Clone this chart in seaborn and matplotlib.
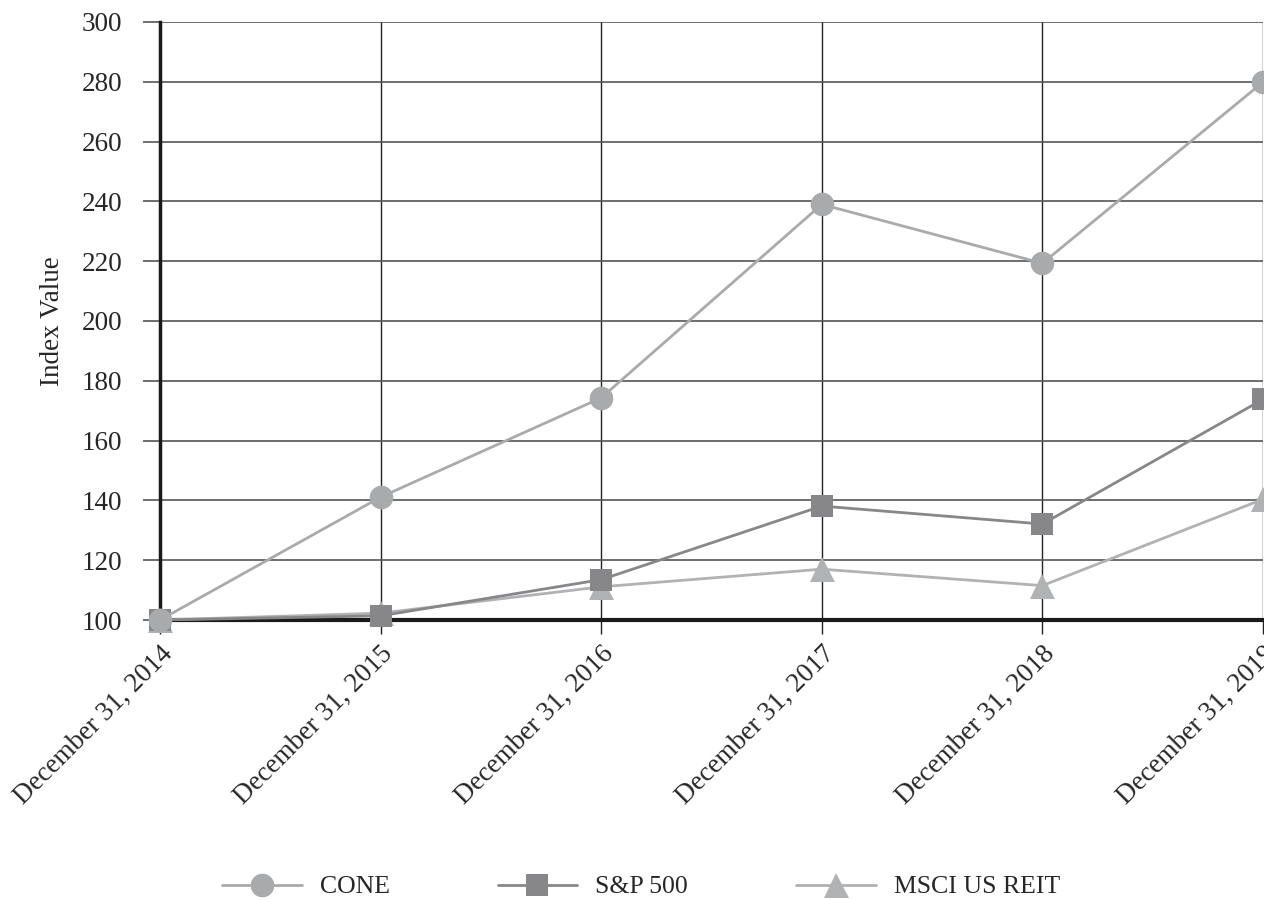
import pandas as pd
import matplotlib.pyplot as plt
import seaborn as sns
from matplotlib.lines import Line2D

dates = ["December 31, 2014", "December 31, 2015", "December 31, 2016",
         "December 31, 2017", "December 31, 2018", "December 31, 2019"]
cone = [100, 141.1, 174.3, 239.0, 219.3, 279.9]
sp500 = [100, 101.4, 113.5, 138.1, 132.1, 173.8]
msci = [100, 102.3, 111.1, 117.0, 111.5, 140.4]

series = ["CONE", "S&P 500", "MSCI US REIT"]
colors = {"CONE": "#a9aaac", "S&P 500": "#87878a", "MSCI US REIT": "#b1b2b4"}
markers = {"CONE": "o", "S&P 500": "s", "MSCI US REIT": "^"}
msizes = {"CONE": 17, "S&P 500": 16, "MSCI US REIT": 18}

df = pd.DataFrame({
    "pos": list(range(len(dates))) * 3,
    "value": cone + sp500 + msci,
    "series": ["CONE"] * 6 + ["S&P 500"] * 6 + ["MSCI US REIT"] * 6,
})

sns.set_style("white")
plt.rcParams["font.family"] = ["Liberation Serif", "DejaVu Serif"]
plt.rcParams["font.size"] = 19.5

fig = plt.figure(figsize=(12.64, 9), dpi=100)
ax = fig.add_axes([160 / 1264, 1 - 620 / 900, 1103 / 1264, 598 / 900])

# draw back to front so CONE sits on top
for name in reversed(series):
    sub = df[df["series"] == name]
    sns.lineplot(data=sub, x="pos", y="value", ax=ax, color=colors[name],
                 marker=markers[name], markersize=msizes[name], linewidth=2,
                 markeredgewidth=0, legend=False, clip_on=False, zorder=5)

ax.set_xlim(0, 5)
ax.set_ylim(100, 300)
ax.set_yticks(range(100, 301, 20))
ax.set_xticks(range(len(dates)))
ax.set_xticklabels(dates, rotation=45, ha="right", rotation_mode="anchor")
ax.set_xlabel("")
ax.set_ylabel("Index Value", labelpad=12)

ax.grid(True, axis="y", color="#555555", linewidth=1.2)
ax.grid(True, axis="x", color="#222222", linewidth=1)
ax.tick_params(axis="y", length=12, width=1.2, color="#555555", pad=15, left=True)
ax.tick_params(axis="x", length=10, width=1, color="#222222", pad=5, bottom=True)

for side in ["top", "right"]:
    ax.spines[side].set_visible(False)
ax.spines["left"].set_color("#1a1a1a")
ax.spines["left"].set_linewidth(2.5)
ax.spines["bottom"].set_color("#1a1a1a")
ax.spines["bottom"].set_linewidth(3)
ax.spines["left"].set_zorder(4)
ax.spines["bottom"].set_zorder(4)

handles = [Line2D([0], [0], color=colors[n], marker=markers[n], markersize=msizes[n],
                  markeredgewidth=0, linewidth=2) for n in series]
fig.legend(handles, series, loc="center left", bbox_to_anchor=(222 / 1264, 1 - 887 / 900),
           ncol=3, frameon=False, borderpad=0, borderaxespad=0, fontsize=18.5,
           handlelength=3.1, columnspacing=4.2, handletextpad=0.7)

fig.savefig("out.png", dpi=100)
